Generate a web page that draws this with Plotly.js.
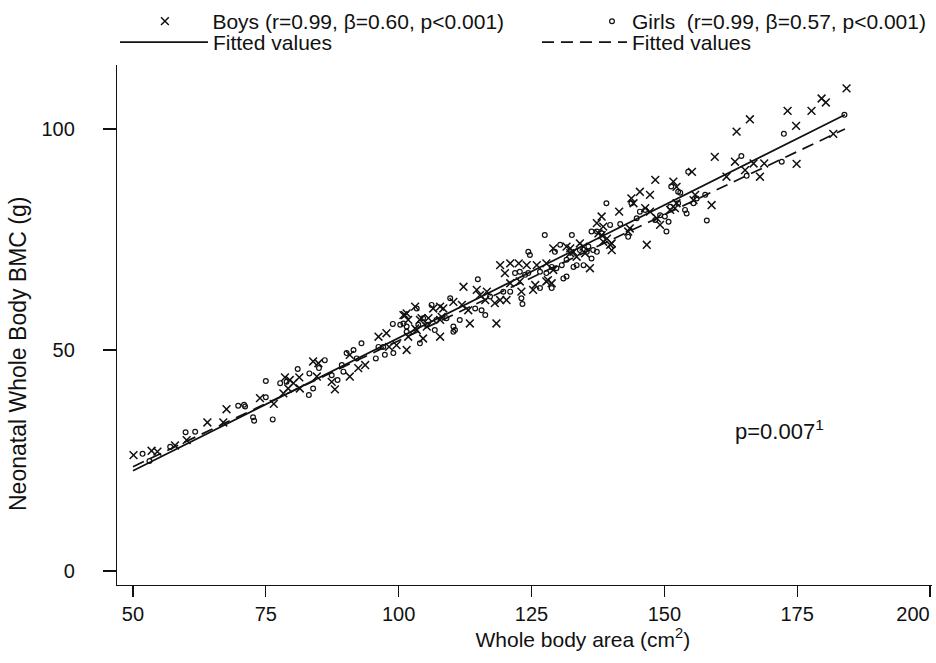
<!DOCTYPE html>
<html>
<head>
<meta charset="utf-8">
<script src="https://cdn.plot.ly/plotly-3.0.1.min.js"></script>
<style>html,body{margin:0;padding:0;background:#fff;}#chart{width:936px;height:663px;}</style>
</head>
<body>
<div id="chart"></div>
<script>
// Boys: whole body area (cm2) and BMC (g)
var boysX = [50.1,53.5,54.6,57.9,60.1,64.0,67.6,67.0,73.9,76.5,79.2,80.2,81.4,78.6,79.5,81.3,78.3,83.9,84.9,84.6,87.4,88.0,90.8,90.8,92.4,93.7,96.2,97.7,98.2,99.6,101.2,101.8,103.4,104.6,101.5,100.9,101.8,103.1,104.0,105.6,106.5,107.8,107.8,108.4,110.3,111.9,113.4,113.1,112.2,114.7,115.3,116.6,116.3,118.4,118.1,119.1,120.3,119.1,121.0,122.6,124.1,120.0,121.0,122.8,123.1,125.3,125.7,127.8,128.1,128.8,126.0,127.8,129.1,129.1,132.3,132.9,131.6,133.5,134.8,136.0,135.1,137.3,138.2,138.5,138.2,139.8,139.2,140.1,141.5,143.5,143.2,143.8,145.4,144.2,147.3,146.7,146.4,147.3,148.6,149.2,148.3,151.1,152.0,152.3,151.7,152.3,155.2,155.8,155.5,158.9,159.5,161.7,163.3,163.6,166.1,165.2,166.8,168.8,168.0,173.2,174.8,174.9,177.7,179.6,180.4,181.8,184.3,101.5,103.1,104.3,105.3,107.8,108.1,132.3,134.1,137.6,138.5,140.1];
var boysY = [26.2,27.2,27.0,28.4,29.6,33.6,36.6,33.6,39.1,37.8,41.3,42.5,41.3,43.8,43.2,43.8,40.2,47.4,47.0,44.0,42.8,41.1,48.9,44.0,45.9,46.6,53.0,53.8,50.7,51.1,57.9,53.0,54.5,52.6,50.0,57.9,56.8,54.9,56.8,57.2,59.4,56.8,53.0,59.4,60.9,60.2,56.0,59.0,64.3,63.6,62.4,63.2,61.3,56.0,60.6,61.3,61.3,69.2,69.6,69.6,69.2,67.4,65.1,65.5,63.2,63.6,64.7,65.5,65.8,65.1,69.2,69.6,68.1,73.0,73.0,72.2,73.4,71.1,73.4,68.5,71.9,78.7,80.2,77.9,76.0,73.8,75.2,72.6,81.3,77.5,76.8,84.3,85.8,83.2,85.1,73.8,82.1,81.3,79.8,78.3,88.5,81.7,82.1,83.2,88.1,86.9,90.3,85.1,83.9,82.8,93.7,89.2,92.6,99.4,102.2,90.7,92.2,92.2,89.2,104.1,100.7,92.1,104.1,106.9,106.0,98.9,109.2,58.3,59.8,57.2,55.3,59.8,57.5,71.9,74.1,76.4,74.5,74.1];

// Girls
var girlsX = [51.8,53.1,57.0,59.9,61.7,69.8,70.9,71.1,72.6,72.8,76.3,75.0,75.0,77.7,78.9,83.1,83.9,81.0,83.2,85.0,86.1,88.5,87.4,89.3,89.6,90.2,91.5,92.1,93.0,95.7,96.2,97.1,97.4,99.0,98.9,100.3,101.5,103.4,104.6,105.3,101.5,104.0,106.2,106.8,109.7,110.3,110.6,111.5,114.9,114.4,115.6,116.3,117.2,119.7,121.0,121.9,122.8,123.8,124.4,123.1,123.3,124.4,124.7,126.6,128.8,126.6,127.8,128.8,127.5,129.7,130.7,131.6,132.9,130.4,132.6,129.4,134.1,135.4,135.7,136.3,136.6,137.3,139.1,136.3,137.3,138.2,139.8,141.7,143.2,143.8,145.4,146.4,144.8,148.3,149.2,150.1,150.8,150.4,151.1,152.6,153.0,153.9,154.2,154.5,155.5,156.1,157.7,158.0,164.5,165.5,172.1,172.5,183.9,131.0,131.6,133.5,134.8,100.9,103.7,107.1,109.0,110.3,151.3,152.6];
var girlsY = [26.5,24.9,28.1,31.4,31.5,37.4,37.6,37.2,34.8,34.0,34.3,39.3,43.0,42.5,42.8,39.8,41.3,45.7,44.7,45.9,47.7,43.2,44.3,46.6,45.1,49.3,50.0,48.1,51.5,48.1,50.7,50.7,48.9,49.3,55.9,55.7,55.3,59.4,57.2,55.7,54.1,51.5,60.2,54.5,61.7,55.3,54.5,56.8,66.0,59.4,59.0,57.9,62.1,63.2,63.2,67.4,67.7,67.0,67.4,61.7,60.4,72.2,71.5,64.0,64.0,67.7,67.4,68.8,76.0,68.5,69.2,66.6,68.8,73.8,76.0,72.2,72.6,72.2,73.4,70.7,72.6,72.2,83.2,76.8,76.8,76.4,78.3,78.5,75.6,83.2,81.3,81.7,79.8,79.4,80.5,80.2,79.0,76.8,82.4,83.2,85.6,81.7,80.9,90.3,83.2,84.3,85.1,79.3,93.9,89.4,92.6,98.9,103.2,66.2,70.4,69.2,69.2,56.0,55.7,56.8,57.2,54.1,87.0,85.8];

// Fitted values
var fitX = [50, 184];
var boysFitY = [22.7, 103.2];
var girlsFitY = [23.6, 100.0];

var xTicks = [50, 75, 100, 125, 150, 175, 200];
var xTickText = ['50', '75', '100', '125', '150', '175', ''];
var xEndTick = [200];
var xEndTickText = ['200'];
var yTicks = [0, 50, 100];
var yTickText = ['0', '50', '100'];

var boysLabel = 'Boys (r=0.99, \u03B2=0.60, p<0.001)';
var girlsLabel = 'Girls  (r=0.99, \u03B2=0.57, p<0.001)';
var fitLabel = 'Fitted values';
var noteText = 'p=0.007<sup>1</sup>';
var xTitle = 'Whole body area (cm<sup>2</sup>)';
var yTitle = 'Neonatal Whole Body BMC (g)';

var FONT = 'Liberation Sans, Arial, Helvetica, sans-serif';
var ZW = '\u200b';
function pad(n) { return new Array(n + 1).join('\u00a0'); }

var XRANGE = [46.99, 200.38];

var traces = [
  {x: boysX, y: boysY, type: 'scatter', mode: 'markers', name: boysLabel, legend: 'legend',
   marker: {symbol: 'x-thin-open', size: 7.8, color: '#111', line: {color: '#111', width: 1.5}}},
  {x: girlsX, y: girlsY, type: 'scatter', mode: 'markers', name: girlsLabel, legend: 'legend2',
   marker: {symbol: 'circle-open', size: 4.8, color: '#111', line: {color: '#111', width: 1.2}}},
  {x: fitX, y: boysFitY, type: 'scatter', mode: 'lines', name: fitLabel, legend: 'legend3',
   xaxis: 'x2', line: {color: '#111', width: 1.7}},
  {x: fitX, y: girlsFitY, type: 'scatter', mode: 'lines', name: fitLabel, legend: 'legend4',
   xaxis: 'x2', line: {color: '#111', width: 1.7, dash: '12px,7px'}}
];

function leg(x, y, iw) {
  return {x: x, y: y, xanchor: 'left', yanchor: 'top', bgcolor: 'rgba(0,0,0,0)', borderwidth: 0,
    itemwidth: iw, font: {family: FONT, size: 21, color: '#111'}, itemclick: false};
}

var layout = {
  width: 936, height: 663,
  margin: {l: 117, r: 4, t: 65, b: 78, pad: 0, autoexpand: false},
  paper_bgcolor: '#fff', plot_bgcolor: '#fff',
  font: {family: FONT, size: 20, color: '#111'},
  showlegend: true,
  legend: leg(0.0005, 1.123, 85),
  legend2: leg(0.5828, 1.123, 30),
  legend3: leg(-0.0025, 1.0827, 88),
  legend4: leg(0.5153, 1.0827, 85),
  xaxis: {
    range: XRANGE, tickvals: xTicks, ticktext: xTickText,
    showline: true, linecolor: '#111', linewidth: 1.2, mirror: false,
    ticks: 'outside', ticklen: 11, tickwidth: 1.2, tickcolor: '#111',
    showgrid: false, zeroline: false,
    tickfont: {family: FONT, size: 20, color: '#111'},
    title: {text: ZW + pad(20) + xTitle, font: {family: FONT, size: 21, color: '#111'}, standoff: 3}
  },
  xaxis2: {
    range: XRANGE, overlaying: 'x', anchor: 'y', side: 'bottom',
    tickvals: xEndTick, ticktext: xEndTickText, ticks: 'outside', ticklen: 11, tickwidth: 1.2, tickcolor: '#111',
    showline: false, showgrid: false, zeroline: false, ticklabelshift: -17,
    tickfont: {family: FONT, size: 20, color: '#111'}
  },
  yaxis: {
    range: [-3.17, 114.48], tickvals: yTicks, ticktext: yTickText,
    showline: true, linecolor: '#111', linewidth: 1.2, mirror: false,
    ticks: 'outside', ticklen: 13, tickwidth: 1.2, tickcolor: '#111',
    showgrid: false, zeroline: false, ticklabelstandoff: 24,
    tickfont: {family: FONT, size: 20, color: '#111'},
    title: {text: yTitle + pad(9) + ZW, font: {family: FONT, size: 23, color: '#111'}, standoff: 8}
  },
  annotations: [
    {x: 163.0, y: 31.8, xref: 'x', yref: 'y', xanchor: 'left', yanchor: 'middle', showarrow: false,
     text: noteText, font: {family: FONT, size: 22, color: '#111'}}
  ]
};

Plotly.newPlot('chart', traces, layout, {displayModeBar: false, staticPlot: true});
</script>
</body>
</html>
